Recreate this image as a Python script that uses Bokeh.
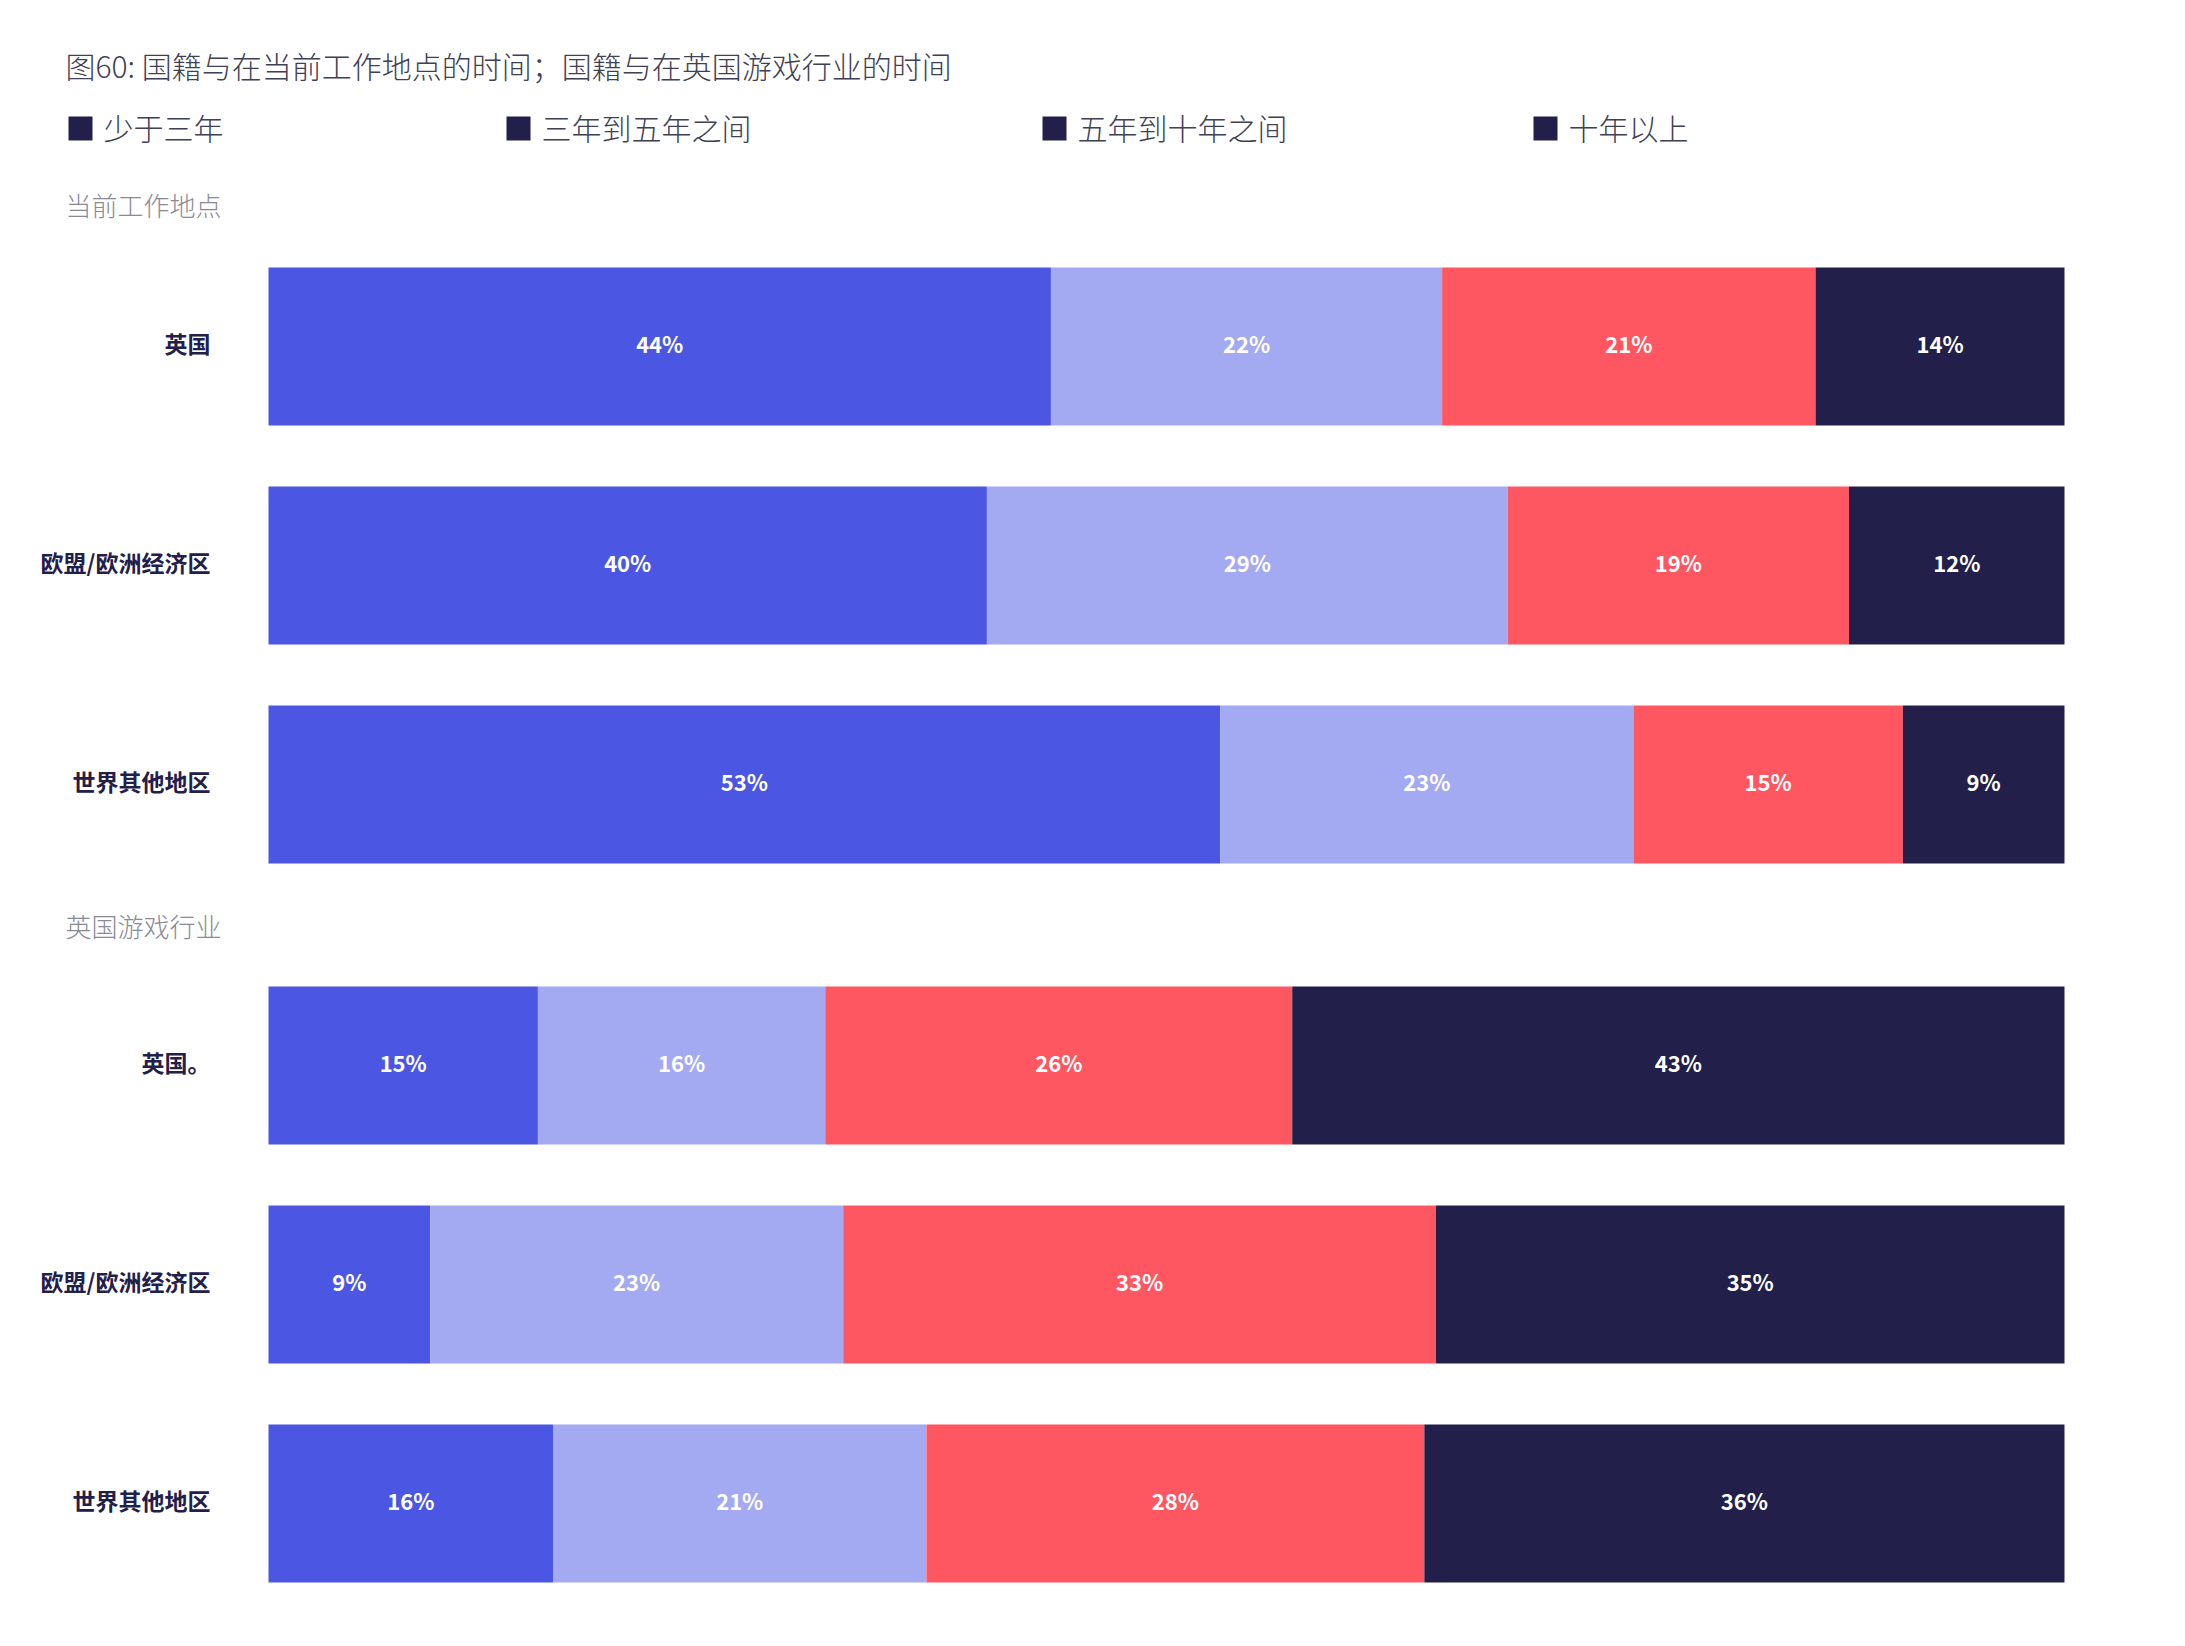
from bokeh.plotting import figure
from bokeh.models import Range1d, Label, ColumnDataSource
from bokeh.core.properties import value
from bokeh.embed import file_html
from bokeh.resources import INLINE

# ---- data ----
title_text = "图60: 国籍与在当前工作地点的时间；国籍与在英国游戏行业的时间"
series = ["少于三年", "三年到五年之间", "五年到十年之间", "十年以上"]
colors = ["#4B57E3", "#A4AAF1", "#FF5761", "#22204A"]
legend_color = "#22204A"
groups = ["当前工作地点", "英国游戏行业"]
regions_current = ["英国", "欧盟/欧洲经济区", "世界其他地区"]
regions_industry = ["英国。", "欧盟/欧洲经济区", "世界其他地区"]
less_than_3 = [44, 40, 53, 15, 9, 16]
three_to_5 = [22, 29, 23, 16, 23, 21]
five_to_10 = [21, 19, 15, 26, 33, 28]
over_10 = [14, 12, 9, 43, 35, 36]

FONT = "Noto Sans CJK SC"
LIGHT = "Noto Sans CJK SC Light, Noto Sans CJK SC"

W, H = 2185, 1646
LEFT, RIGHT = 268, 2064
BW = RIGHT - LEFT


def px(x):
    """canvas pixel x -> share-of-row units used by the x range"""
    return (x - LEFT) / BW


row_labels = regions_current + regions_industry
n_rows = len(row_labels)
row_step, group_extra, first_center = 219, 62, 346
row_y = [first_center + i * row_step + (i // 3) * group_extra for i in range(n_rows)]
bar_h = 158

values = [less_than_3, three_to_5, five_to_10, over_10]

p = figure(width=W, height=H, output_backend="svg", toolbar_location=None,
           x_range=Range1d(px(0), px(W)), y_range=Range1d(H, 0),
           min_border=0, x_axis_location=None, y_axis_location=None)
p.outline_line_color = None
p.grid.visible = False
p.background_fill_color = "white"
p.border_fill_color = "white"

lefts, rights, ys, cols, labs, mids = [], [], [], [], [], []
for r in range(n_rows):
    total = sum(v[r] for v in values)
    cum = 0
    for s, v in enumerate(values):
        l = cum / total
        cum += v[r]
        rr = cum / total
        lefts.append(l); rights.append(rr); ys.append(row_y[r])
        cols.append(colors[s]); labs.append(f"{v[r]}%"); mids.append((l + rr) / 2)

src = ColumnDataSource(dict(left=lefts, right=rights, y=ys, color=cols, label=labs, mid=mids))
p.hbar(y="y", left="left", right="right", height=bar_h, color="color", line_color=None, source=src)
p.text(x="mid", y="y", text="label", source=src, text_color="white",
       text_font=value(FONT), text_font_style="bold", text_font_size="22px",
       text_align="center", text_baseline="middle", y_offset=-4)

# row (category) labels
cat_src = ColumnDataSource(dict(y=row_y, name=row_labels, x=[px(210)] * n_rows))
p.text(x="x", y="y", text="name", source=cat_src, text_color="#22204A",
       text_font=value(FONT), text_font_style="bold", text_font_size="23px",
       text_align="right", text_baseline="middle", y_offset=-4)

# title
p.add_layout(Label(x=px(65), y=64, text=title_text,
                   text_font=LIGHT, text_font_size="30px", text_color="#3F3F55",
                   text_baseline="middle", text_align="left"))

# legend
leg_x = [68, 506, 1042, 1533]
leg_y = 128
sq = 24
leg_src = ColumnDataSource(dict(left=[px(x) for x in leg_x], right=[px(x + sq) for x in leg_x],
                                y=[leg_y] * 4))
p.hbar(y="y", left="left", right="right", height=sq, color=legend_color, line_color=None,
       source=leg_src)
for x0, name in zip(leg_x, series):
    p.add_layout(Label(x=px(x0 + 35), y=leg_y - 2, text=name,
                       text_font=LIGHT, text_font_size="30px", text_color="#3F3F55",
                       text_baseline="middle", text_align="left"))

# section labels
for gy, g in zip([204, 925], groups):
    p.add_layout(Label(x=px(65), y=gy, text=g,
                       text_font=LIGHT, text_font_size="26px", text_color="#8A8A96",
                       text_baseline="middle", text_align="left"))

open("out.html", "w").write(file_html(p, INLINE))
